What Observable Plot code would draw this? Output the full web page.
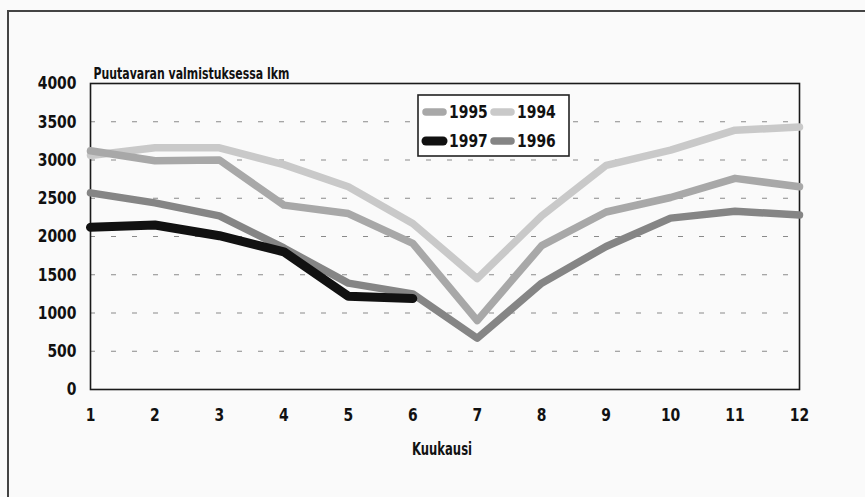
<!DOCTYPE html>
<html>
<head>
<meta charset="utf-8">
<script src="https://cdn.jsdelivr.net/npm/d3@7"></script>
<script src="https://cdn.jsdelivr.net/npm/@observablehq/plot@0.6"></script>
<style>
  html, body { margin: 0; background: #fafafa; overflow: hidden; }
  #wrap { position: relative; width: 865px; height: 497px; overflow: hidden; background: #fafafa;
          font-family: "DejaVu Sans Condensed", "DejaVu Sans", sans-serif; font-weight: bold; }
  #border { position: absolute; left: 7px; top: 10px; width: 900px; height: 600px;
            border-top: 2px solid #444; border-left: 2px solid #444; }
</style>
</head>
<body>
<div id="wrap"><div id="border"></div></div>
<script>
const months = [1, 2, 3, 4, 5, 6, 7, 8, 9, 10, 11, 12];
const v1994 = [3060, 3160, 3160, 2940, 2650, 2170, 1450, 2270, 2930, 3130, 3390, 3430];
const v1995 = [3120, 2990, 3000, 2410, 2300, 1910, 900, 1880, 2320, 2510, 2760, 2650];
const v1996 = [2570, 2440, 2270, 1850, 1390, 1250, 670, 1390, 1870, 2240, 2330, 2280];
const v1997 = [2120, 2150, 2010, 1800, 1220, 1190];
const yTicks = [0, 500, 1000, 1500, 2000, 2500, 3000, 3500, 4000];
const gridTicks = [500, 1000, 1500, 2000, 2500, 3000, 3500];
const titleText = "Puutavaran valmistuksessa lkm";
const xLabel = "Kuukausi";

const series = [
  {year: "1994", values: v1994, color: "#c9c9c9", width: 7.5},
  {year: "1995", values: v1995, color: "#a8a8a8", width: 7.5},
  {year: "1996", values: v1996, color: "#858585", width: 7.5},
  {year: "1997", values: v1997, color: "#111111", width: 9}
];
const legendOrder = ["1995", "1994", "1997", "1996"];

const rows = s => s.values.map((v, i) => ({month: months[i], value: v}));
const font = '"DejaVu Sans Condensed", "DejaVu Sans", sans-serif';

const chart = Plot.plot({
  width: 865,
  height: 497,
  marginLeft: 90,
  marginRight: 66,
  marginTop: 83,
  marginBottom: 108,
  style: {background: "transparent", fontFamily: font, color: "#111"},
  x: {domain: [1, 12]},
  y: {domain: [0, 4000]},
  marks: [
    Plot.ruleY(gridTicks, {stroke: "#8a8a8a", strokeWidth: 1, strokeDasharray: "5,16"}),
    Plot.frame({stroke: "#1a1a1a", strokeWidth: 1.6}),
    ...series.map(s => Plot.line(rows(s), {
      x: "month", y: "value", stroke: s.color, strokeWidth: s.width,
      strokeLinecap: "round", strokeLinejoin: "round"
    })),
    Plot.axisX({ticks: months, tickFormat: d => String(d), tickSize: 0, tickPadding: 19,
      fontSize: 18, fontWeight: "bold", label: null, className: "squeeze-tick"}),
    Plot.axisY({ticks: yTicks, tickFormat: d => String(d), tickSize: 0, tickPadding: 14,
      fontSize: 18, fontWeight: "bold", label: null, className: "squeeze-tick"}),
    Plot.text([titleText], {frameAnchor: "top-left", text: d => d, textAnchor: "start",
      lineAnchor: "bottom", dx: 3, dy: -5, fontSize: 16, fontWeight: "bold", fill: "#111",
      className: "squeeze-title"}),
    Plot.text([xLabel], {frameAnchor: "bottom", text: d => d, lineAnchor: "bottom",
      dx: -3, dy: 65, fontSize: 17, fontWeight: "bold", fill: "#111", className: "squeeze-label"})
  ]
});
document.getElementById("wrap").appendChild(chart);
chart.style.position = "absolute";
chart.style.left = "0";
chart.style.top = "0";

// Legend (inside the plot area, as in the reference)
const lg = d3.select(chart).append("g").attr("class", "legend")
  .attr("transform", "translate(418,95)").attr("text-anchor", "start");
lg.append("rect").attr("width", 151).attr("height", 61)
  .attr("fill", "#fff").attr("stroke", "#222").attr("stroke-width", 1.6);
legendOrder.forEach((yr, i) => {
  const s = series.find(d => d.year === yr);
  const gx = i % 2 === 0 ? 0 : 68;
  const gy = i < 2 ? 17 : 46;
  const g = lg.append("g").attr("transform", `translate(${gx},${gy})`);
  g.append("line").attr("x1", 8).attr("x2", 25).attr("y1", 0).attr("y2", 0)
    .attr("stroke", s.color).attr("stroke-width", s.width).attr("stroke-linecap", "round");
  g.append("text").attr("x", 31).attr("y", 0).attr("dy", "0.35em")
    .attr("text-anchor", "start")
    .attr("font-size", 18).attr("font-weight", "bold").attr("fill", "#111")
    .attr("font-family", font).attr("class", "squeeze-legend").text(yr);
});

// Condense glyphs horizontally to mimic the narrow typeface of the original
function squeeze(selector, factor) {
  chart.querySelectorAll(selector).forEach(t => {
    const targets = t.tagName === "text" ? [t] : Array.from(t.querySelectorAll("text"));
    targets.forEach(el => {
      const len = el.getComputedTextLength();
      if (len > 0) {
        el.setAttribute("textLength", (len * factor).toFixed(1));
        el.setAttribute("lengthAdjust", "spacingAndGlyphs");
      }
    });
  });
}
squeeze(".squeeze-tick", 0.86);
squeeze(".squeeze-legend", 0.86);
squeeze(".squeeze-title", 0.76);
squeeze(".squeeze-label", 0.76);
</script>
</body>
</html>
